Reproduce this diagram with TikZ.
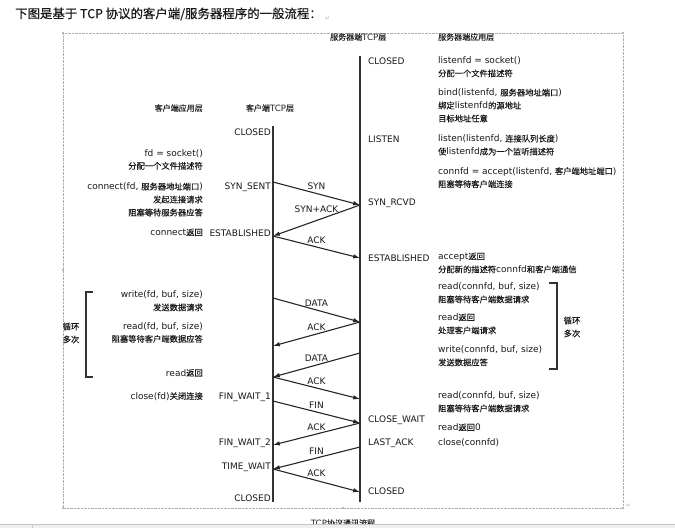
\documentclass[tikz,border=0pt]{standalone}
\usepackage{fontspec}
\setmainfont{DejaVu Sans}
\newfontfamily\cjkfont{Noto Sans CJK SC}[Scale=0.92,FakeBold=0.3]
\newcommand\zh[1]{{\cjkfont #1}}
\usetikzlibrary{positioning,arrows.meta}
\tikzset{
state/.style={
inner sep=0pt,
font=\fontsize{9}{13}\selectfont,
text=black!90
},
apptext/.style={
inner sep=0pt,
font=\fontsize{9}{13}\selectfont,
text=black!90
},
header/.style={
inner sep=0pt,
font=\fontsize{8.7}{11}\selectfont,
text=black!85
},
msg/.style={
midway,
above=3pt,
inner sep=0pt,
font=\fontsize{9}{11}\selectfont,
text=black!90
},
arrow/.style={
-{Latex[length=2.4mm,width=1.6mm]},
line width=1.1pt,
draw=black!85
},
timeline/.style={
line width=2pt,
draw=black!80
},
bracket/.style={
line width=1.2pt,
draw=black!80
},
handle/.style={
fill=gray!55,
minimum size=2.6pt,
inner sep=0pt
},
parmark/.style={
inner sep=0pt,
font=\fontsize{6}{6}\selectfont,
text=gray!60
}
}

\begin{document}
\begin{tikzpicture}[x=1pt,y=-1pt]
\useasboundingbox (0,0) rectangle (675,528);
\fill[white] (0,0) rectangle (675,528);

% title line of the page
\node[anchor=west,inner sep=0pt,font=\cjkfont\fontsize{13.5}{15}\selectfont,text=black!90](title) at (15,14){下图是基于 TCP 协议的客户端/服务器程序的一般流程：};
\node[parmark,right=3pt of title.south east,anchor=south west](titlemark){↵};

% picture frame
\draw[densely dotted,gray!65](63,33) rectangle (623,508);
\foreach \p in {(63,33),(623,33),(63,270),(623,270),(63,508),(343,508),(623,508)}
  \node[handle] at \p {};
\node[parmark,anchor=south west](framemark) at (626,508){↵};

% headers
\node[header,anchor=west](shdr) at (330,37){\zh{服务器端}TCP\zh{层}};
\node[header,anchor=west](ahdr) at (438,37){\zh{服务器端应用层}};
\node[header,anchor=east](bhdr) at (203,108){\zh{客户端应用层}};
\node[header](chdr) at (270,108){\zh{客户端}TCP\zh{层}};

% time lines
\coordinate (ctop) at (273,126);
\coordinate (cbot) at (273,502);
\coordinate (stop) at (360,56);
\coordinate (sbot) at (360,502);
\draw[timeline](ctop)--(cbot);
\draw[timeline](stop)--(sbot);

% client states
\node[state,anchor=east](cclosed) at (271,132){CLOSED};
\node[state,anchor=east](csynsent) at (271,187){SYN\_SENT};
\node[state,anchor=east](cestab) at (271,233){ESTABLISHED};
\node[state,anchor=east](cfinone) at (271,397){FIN\_WAIT\_1};
\node[state,anchor=east](cfintwo) at (271,443){FIN\_WAIT\_2};
\node[state,anchor=east](ctimewait) at (271,467){TIME\_WAIT};
\node[state,anchor=east](cclosedend) at (271,498){CLOSED};

% server states
\node[state,anchor=west](sclosed) at (368,61){CLOSED};
\node[state,anchor=west](slisten) at (368,139){LISTEN};
\node[state,anchor=west](ssynrcvd) at (368,203){SYN\_RCVD};
\node[state,anchor=west](sestab) at (368,258){ESTABLISHED};
\node[state,anchor=west](sclosewait) at (368,420){CLOSE\_WAIT};
\node[state,anchor=west](slastack) at (368,443){LAST\_ACK};
\node[state,anchor=west](sclosedend) at (368,491){CLOSED};

% server application
\node[apptext,anchor=north west,align=left](asocket) at (438,56.5){listenfd = socket()\\\zh{分配一个文件描述符}};
\node[apptext,anchor=north west,align=left](abind) at (438,88.5){bind(listenfd, \zh{服务器地址端口})\\\zh{绑定}listenfd\zh{的源地址}\\\zh{目标地址任意}};
\node[apptext,anchor=north west,align=left](alisten) at (438,134.5){listen(listenfd, \zh{连接队列长度})\\\zh{使}listenfd\zh{成为一个监听描述符}};
\node[apptext,anchor=north west,align=left](aaccept) at (438,167){connfd = accept(listenfd, \zh{客户端地址端口})\\\zh{阻塞等待客户端连接}};
\node[apptext,anchor=north west,align=left](aacceptret) at (438,252.5){accept\zh{返回}\\\zh{分配新的描述符}connfd\zh{和客户端通信}};
\node[apptext,anchor=north west,align=left](aread) at (438,282.5){read(connfd, buf, size)\\\zh{阻塞等待客户端数据请求}};
\node[apptext,anchor=north west,align=left](areadret) at (438,313.5){read\zh{返回}\\\zh{处理客户端请求}};
\node[apptext,anchor=north west,align=left](awrite) at (438,345.5){write(connfd, buf, size)\\\zh{发送数据应答}};
\node[apptext,anchor=north west,align=left](areadlast) at (438,391.5){read(connfd, buf, size)\\\zh{阻塞等待客户端数据请求}};
\node[apptext,anchor=north west,align=left](areadzero) at (438,423.5){read\zh{返回}0};
\node[apptext,anchor=north west,align=left](aclose) at (438,438.5){close(connfd)};

% client application
\node[apptext,anchor=north east,align=right](bsocket) at (203,149){fd = socket()\\\zh{分配一个文件描述符}};
\node[apptext,anchor=north east,align=right](bconnect) at (203,182.5){connect(fd, \zh{服务器地址端口})\\\zh{发起连接请求}\\\zh{阻塞等待服务器应答}};
\node[apptext,anchor=north east,align=right](bconnret) at (203,228.5){connect\zh{返回}};
\node[apptext,anchor=north east,align=right](bwrite) at (203,290.5){write(fd, buf, size)\\\zh{发送数据请求}};
\node[apptext,anchor=north east,align=right](bread) at (203,322){read(fd, buf, size)\\\zh{阻塞等待客户端数据应答}};
\node[apptext,anchor=north east,align=right](breadret) at (203,369){read\zh{返回}};
\node[apptext,anchor=north east,align=right](bclose) at (203,392){close(fd)\zh{关闭连接}};

% loop brackets
\draw[bracket](93,292)--(86,292)--(86,377)--(93,377);
\node[apptext,align=center](bloop) at (71,333){\zh{循环}\\\zh{多次}};
\draw[bracket](549,283)--(557,283)--(557,369)--(549,369);
\node[apptext,align=center](aloop) at (572,327){\zh{循环}\\\zh{多次}};

% points on the time lines
\coordinate (c1) at (273,182);
\coordinate (c2) at (273,236);
\coordinate (c3) at (273,298);
\coordinate (c4) at (273,346);
\coordinate (c5) at (273,377);
\coordinate (c6) at (273,401);
\coordinate (c7) at (273,445);
\coordinate (c8) at (273,469);
\coordinate (s1) at (360,205);
\coordinate (s2) at (360,258);
\coordinate (s3) at (360,322);
\coordinate (s4) at (360,353);
\coordinate (s5) at (360,399);
\coordinate (s6) at (360,423);
\coordinate (s7) at (360,447);
\coordinate (s8) at (360,492);

% segments
\draw[arrow](c1)--(s1) node[msg]{SYN};
\draw[arrow](s1)--(c2) node[msg,above=7pt]{SYN+ACK};
\draw[arrow](c2)--(s2) node[msg]{ACK};
\draw[arrow](c3)--(s3) node[msg]{DATA};
\draw[arrow](s3)--(c4) node[msg]{ACK};
\draw[arrow](s4)--(c5) node[msg]{DATA};
\draw[arrow](c5)--(s5) node[msg]{ACK};
\draw[arrow](c6)--(s6) node[msg]{FIN};
\draw[arrow](s6)--(c7) node[msg]{ACK};
\draw[arrow](s7)--(c8) node[msg]{FIN};
\draw[arrow](c8)--(s8) node[msg]{ACK};

% caption, cut by the status bar
\node[header,anchor=base](caption) at (343,526){TCP\zh{协议通讯流程}};
\fill[gray!12](0,524) rectangle (675,528);
\draw[gray!45](0,524)--(675,524);
\draw[gray!45](32,524)--(32,528);
\end{tikzpicture}
\end{document}
